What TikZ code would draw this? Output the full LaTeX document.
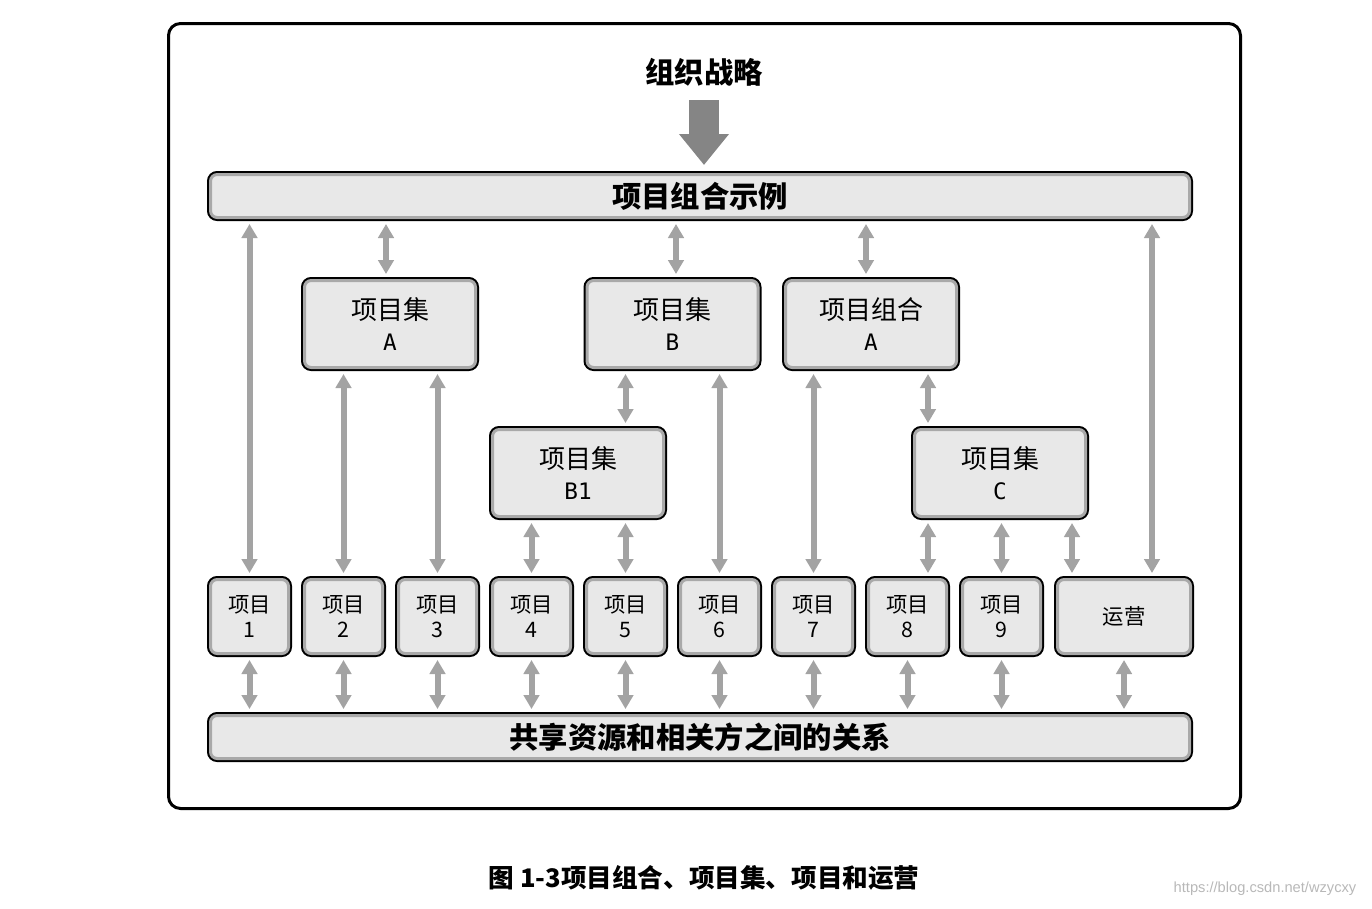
\documentclass[tikz,border=0pt]{standalone}
\usepackage{fontspec}
\setmainfont{Noto Sans CJK SC}
\newfontfamily\urlfont{Liberation Sans}
\newfontfamily\letterfont{DejaVu Sans Mono}
\usetikzlibrary{
    arrows.meta,
    calc
}
\definecolor{boxfill}{HTML}{E8E8E8}
\definecolor{boxedge}{HTML}{A9A9A9}
\definecolor{linkgray}{HTML}{A3A3A3}
\definecolor{biggray}{HTML}{858585}

\tikzset{
    box/.style={rounded corners=5pt, fill=boxfill, draw=boxedge, line width=2.25pt,
        preaction={draw=black, line width=5.25pt}, outer sep=2.625pt, inner sep=0pt, align=center},
    bar/.style={box, minimum width=734.25pt, minimum height=32.25pt,
        font=\fontsize{22pt}{26pt}\selectfont\bfseries},
    setbox/.style={box, minimum width=128.25pt, minimum height=65.25pt,
        font=\fontsize{19.5pt}{23.25pt}\selectfont},
    proj/.style={box, minimum width=58.5pt, minimum height=55.5pt,
        font=\fontsize{16pt}{18.75pt}\selectfont},
    link/.style={draw=linkgray, line width=4.5pt,
        {Triangle[width=11.5pt,length=10.5pt]}-{Triangle[width=11.5pt,length=10.5pt]},
        shorten <=2.25pt, shorten >=2.25pt},
    bigarrow/.style={draw=biggray, line width=22.5pt, -{Triangle[width=36pt,length=23.25pt]}}
}
\newcommand{\setname}[1]{{\letterfont\fontsize{17pt}{23.25pt}\selectfont #1}}

\begin{document}
\begin{tikzpicture}[x=0.75pt, y=-0.75pt]
    \useasboundingbox (0,0) rectangle (1372,908);
    \draw[line width=2.25pt, rounded corners=9pt] (168.5,23.5) rectangle (1240.5,808.5);

    \node[font=\fontsize{22pt}{26pt}\selectfont\bfseries] (title) at (704, 72) {组织战略};
    \node[bar] (pf) at (700, 196) {项目组合示例};

    \node[setbox] (setA) at (390, 324) {项目集\\\setname{A}};
    \node[setbox] (setB) at (672.5, 324) {项目集\\\setname{B}};
    \node[setbox] (pfA) at (871, 324) {项目组合\\\setname{A}};
    \node[setbox] (setB1) at (578, 473) {项目集\\\setname{B1}};
    \node[setbox] (setC) at (1000, 473) {项目集\\\setname{C}};

    \foreach \i/\x in {1/249.5, 2/343.5, 3/437.5, 4/531.5, 5/625.5, 6/719.5, 7/813.5, 8/907.5, 9/1001.5}
        \node[proj] (p\i) at (\x, 616.5) {项目\\\i};
    \node[proj, minimum width=99.75pt] (ops) at (1124, 616.5) {运营};

    \node[bar] (res) at (700, 737) {共享资源和相关方之间的关系};

    \node[font=\fontsize{19.2pt}{22pt}\selectfont\bfseries] (cap) at (704, 878) {图 1-3项目组合、项目集、项目和运营};
    \node[text=black!28, font=\urlfont\fontsize{11pt}{13pt}\selectfont] (url) at (1265, 889) {https://blog.csdn.net/wzycxy};

    \coordinate (aTop) at ($(setA.north)+(-4,0)$);
    \coordinate (bTop) at ($(setB.north)+(3.5,0)$);
    \coordinate (pfTop) at ($(pfA.north)+(-5,0)$);
    \coordinate (cLeft) at ($(setC.south west)+(17,0)$);
    \coordinate (opsL) at ($(ops.north west)+(18,0)$);
    \coordinate (opsR) at ($(ops.north east)+(-42,0)$);

    \draw[bigarrow, shorten >=4.5pt] (title.center) ++(0,28) -- (title.center |- pf.north);

    \draw
    (pf.south -| p1) edge[link] (p1.north)
    (pf.south -| aTop) edge[link] (aTop)
    (setA.south -| p2) edge[link] (p2.north)
    (setA.south -| p3) edge[link] (p3.north)
    (pf.south -| bTop) edge[link] (bTop)
    (setB.south -| p5) edge[link] (setB1.north -| p5)
    (setB.south -| p6) edge[link] (p6.north)
    (pf.south -| pfTop) edge[link] (pfTop)
    (pfA.south -| p7) edge[link] (p7.north)
    (pfA.south -| cLeft) edge[link] (setC.north -| cLeft)
    (setB1.south -| p4) edge[link] (p4.north)
    (setB1.south -| p5) edge[link] (p5.north)
    (setC.south -| cLeft) edge[link] (p8.north -| cLeft)
    (setC.south -| p9) edge[link] (p9.north)
    (setC.south -| opsL) edge[link] (opsL)
    (pf.south -| opsR) edge[link] (opsR);

    \foreach \i in {1,...,9}
        \draw (p\i.south) edge[link] (res.north -| p\i);
    \draw (ops.south) edge[link] (res.north -| ops);
\end{tikzpicture}
\end{document}
